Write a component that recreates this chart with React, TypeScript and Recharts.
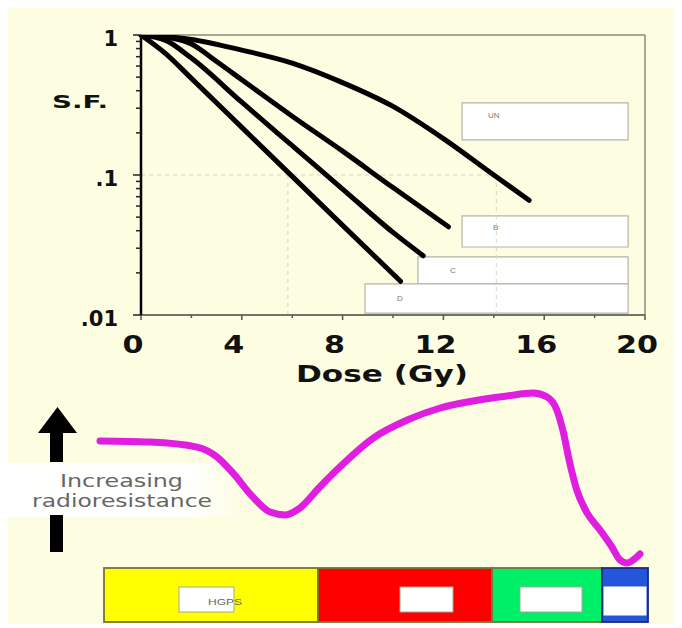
import React from 'react';
import { LineChart, Line, XAxis, YAxis, ReferenceLine, ReferenceArea, BarChart, Bar } from 'recharts';

// ---- Survival curves (dose in Gy, surviving fraction) ----
const UN_DOSE = [0, 2, 4, 6, 8, 10, 12, 14, 15.4];
const UN_SF = [1, 0.93, 0.78, 0.63, 0.457, 0.309, 0.182, 0.1, 0.066];
const B_DOSE = [0, 1, 2, 3, 4, 6, 8, 10, 12.2];
const B_SF = [1, 0.966, 0.861, 0.646, 0.479, 0.263, 0.148, 0.0813, 0.0427];
const C_DOSE = [0, 1, 2, 4, 6, 8, 10, 11.2];
const C_SF = [1, 0.912, 0.684, 0.331, 0.162, 0.0794, 0.0389, 0.0265];
const D_DOSE = [0, 1, 2, 4, 6, 8, 10.3];
const D_SF = [1, 0.73, 0.49, 0.219, 0.0977, 0.0437, 0.0174];

const X_TICKS = [0, 2, 4, 6, 8, 10, 12, 14, 16, 18, 20];
const Y_TICKS = [0.01, 0.02, 0.03, 0.04, 0.05, 0.06, 0.07, 0.08, 0.09, 0.1, 0.2, 0.3, 0.4, 0.5, 0.6, 0.7, 0.8, 0.9, 1];
const Y_MAJOR = [0.01, 0.1, 1];
const Y_MAJOR_LABELS = ['.01', '.1', '1'];

// legend boxes (names and their extents in data units)
const LEGEND_NAMES = ['UN', 'B', 'C', 'D'];
const LEGEND_X1 = [12.74, 12.74, 10.99, 8.89];
const LEGEND_X2 = [19.33, 19.33, 19.33, 19.33];
const LEGEND_Y1 = [0.178, 0.0306, 0.0167, 0.0103];
const LEGEND_Y2 = [0.327, 0.051, 0.026, 0.0167];

// ---- Radioresistance trace (relative units) ----
const MAG_X = [0, 9.26, 17.96, 21.67, 24.6, 28.3, 31.5, 34.3, 37.0, 40.7, 44.4, 50.6, 56.9, 63.0, 69.1, 75.4, 80.2, 82.8, 84.6, 85.7, 87.0, 88.3, 90.2, 92.6, 94.8, 96.3, 97.6, 99.4, 100];
const MAG_Y = [71.7, 71.1, 68.3, 62.8, 53.9, 40.6, 32.2, 30.6, 34.4, 46.1, 57.2, 73.3, 83.3, 90, 93.9, 96.7, 98.3, 96.1, 88.9, 77.8, 59.4, 44.4, 31.7, 22.2, 12.8, 5.6, 3.9, 7.2, 8.9];

// ---- Segments ----
const SEGMENT_KEYS = ['yellow', 'red', 'green', 'blue'];
const SEGMENT_WIDTHS = [214, 174, 110, 46];
const SEGMENT_LABELS = ['HGPS', '', '', ''];
const SEGMENT_COLORS = ['#ffff00', '#ff0000', '#00ef68', '#2456dc'];

const toPoints = (d: number[], s: number[]) => d.map((dose, i) => ({ dose, sf: s[i] }));
const SERIES = [
  { name: 'UN', points: toPoints(UN_DOSE, UN_SF) },
  { name: 'B', points: toPoints(B_DOSE, B_SF) },
  { name: 'C', points: toPoints(C_DOSE, C_SF) },
  { name: 'D', points: toPoints(D_DOSE, D_SF) },
];
const MAG_POINTS = MAG_X.map((x, i) => ({ x, y: MAG_Y[i] }));
const SEGMENT_ROW: Record<string, any> = { name: 'cells' };
SEGMENT_KEYS.forEach((k, i) => { SEGMENT_ROW[k] = SEGMENT_WIDTHS[i]; });
const SEGMENT_DATA = [SEGMENT_ROW];
const SEGMENT_TOTAL = SEGMENT_WIDTHS.reduce((a, b) => a + b, 0);

// styling for annotation pieces
const LEGEND_LABEL_OFFSETS = [[26, 15], [31, 14], [32, 16], [32, 17]];
const SEGMENT_INNER = [
  { left: 75, width: 55, top: 19, height: 25, textDx: 121, textDy: 37 },
  { left: 82, width: 53, top: 19, height: 25, textDx: 0, textDy: 0 },
  { left: 28, width: 62, top: 19, height: 25, textDx: 0, textDy: 0 },
  { left: 2, width: 42, top: 19, height: 28, textDx: 0, textDy: 0 },
];

const BOLD = '"DejaVu Sans", "Liberation Sans", Arial, sans-serif';
const CREAM = '#fdfde1';

const YTick = (props: any) => {
  const { x, y, payload } = props;
  const idx = Y_MAJOR.findIndex((m) => Math.abs(m - payload.value) < 1e-9);
  const major = idx >= 0;
  return (
    <g>
      <line x1={x - (major ? 8 : 5)} x2={x} y1={y} y2={y} stroke="#222" strokeWidth={1.5} />
      {major && (
        <text x={x - 23} y={y + 11} textAnchor="end" fontFamily={BOLD} fontWeight="bold" fontSize={21} fill="#111">
          {Y_MAJOR_LABELS[idx]}
        </text>
      )}
    </g>
  );
};

const XTick = (props: any) => {
  const { x, y, payload } = props;
  const v = payload.value;
  const labeled = v % 4 === 0;
  const s = String(v);
  return (
    <g>
      <line x1={x} x2={x} y1={y} y2={y + (labeled ? 5 : 3)} stroke="#555" strokeWidth={1.5} />
      {labeled && (
        <text x={x - 8} y={y + 38} textAnchor="middle" fontFamily={BOLD} fontWeight="bold" fontSize={24} fill="#111"
          textLength={s.length * 21} lengthAdjust="spacingAndGlyphs">
          {s}
        </text>
      )}
    </g>
  );
};

const SegmentShape = (props: any) => {
  const { x, y, width, height, fill, inner, label, isBlue } = props;
  return (
    <g>
      <rect x={x} y={y} width={width} height={height} fill={fill} stroke={isBlue ? '#1c2a80' : '#77733a'} strokeWidth={1.8} />
      <rect x={x + inner.left} y={y + inner.top} width={inner.width} height={inner.height} fill="#ffffff" stroke={isBlue ? '#ffffff' : '#a8a890'} strokeWidth={1} />
      {label ? (
        <text x={x + inner.textDx} y={y + inner.textDy} textAnchor="middle" fontFamily="Liberation Sans, Arial, sans-serif" fontSize={9} fill="#666"
          textLength={34} lengthAdjust="spacingAndGlyphs">
          {label}
        </text>
      ) : null}
    </g>
  );
};

export default function App() {
  return (
    <div style={{ position: 'relative', width: 674, height: 616, background: CREAM, overflow: 'hidden' }}>
      {/* decorations: glow, arrow and caption */}
      <svg width={674} height={616} style={{ position: 'absolute', left: 0, top: 0 }}>
        <defs>
          <linearGradient id="glow" x1="0" y1="0" x2="1" y2="0">
            <stop offset="0" stopColor="#ffffff" stopOpacity={1} />
            <stop offset="0.75" stopColor="#ffffff" stopOpacity={0.95} />
            <stop offset="1" stopColor="#ffffff" stopOpacity={0} />
          </linearGradient>
        </defs>
        <rect x={0} y={455} width={240} height={54} fill="url(#glow)" />
        <polygon points="30,425 69,425 49.5,399" fill="#000" />
        <rect x={42} y={424} width={13} height={30} fill="#000" />
        <rect x={42} y={507} width={13} height={37} fill="#000" />
        <text x={52} y={479} fontFamily='"DejaVu Sans", sans-serif' fontSize={17} fill="#666" textLength={123} lengthAdjust="spacingAndGlyphs">Increasing</text>
        <text x={24} y={499} fontFamily='"DejaVu Sans", sans-serif' fontSize={17} fill="#666" textLength={180} lengthAdjust="spacingAndGlyphs">radioresistance</text>
      </svg>

      {/* survival curves */}
      <div style={{ position: 'absolute', left: 0, top: 0 }}>
        <LineChart width={674} height={390} margin={{ top: 27, right: 37, left: 0, bottom: 23 }}>
          <XAxis
            type="number"
            dataKey="dose"
            domain={[0, 20]}
            ticks={X_TICKS}
            interval={0}
            tick={<XTick />}
            tickLine={false}
            tickSize={0}
            tickMargin={0}
            height={60}
            axisLine={{ stroke: '#444', strokeWidth: 1.5 }}
            label={(p: any) => (
              <text x={p.viewBox.x + p.viewBox.width / 2 - 11} y={p.viewBox.y + 67} textAnchor="middle" fontFamily={BOLD}
                fontWeight="bold" fontSize={23} fill="#111" textLength={172} lengthAdjust="spacingAndGlyphs">
                Dose (Gy)
              </text>
            )}
          />
          <YAxis
            type="number"
            scale="log"
            domain={[0.01, 1]}
            allowDataOverflow
            ticks={Y_TICKS}
            interval={0}
            tick={<YTick />}
            tickLine={false}
            tickSize={0}
            tickMargin={0}
            width={133}
            axisLine={{ stroke: '#000', strokeWidth: 2.5 }}
            label={(p: any) => (
              <text x={72} y={p.viewBox.y + 73} textAnchor="middle" fontFamily={BOLD} fontWeight="bold" fontSize={17}
                fill="#111" textLength={56} lengthAdjust="spacingAndGlyphs">
                S.F.
              </text>
            )}
          />
          <ReferenceLine y={1} stroke="#8a8a7a" strokeWidth={1.5} />
          <ReferenceLine x={20} stroke="#8a8a7a" strokeWidth={1.5} />
          <ReferenceLine segment={[{ x: 0, y: 0.1 }, { x: 14.1, y: 0.1 }]} stroke="#d4d4c4" strokeDasharray="4 4" />
          <ReferenceLine segment={[{ x: 5.83, y: 0.01 }, { x: 5.83, y: 0.1 }]} stroke="#d4d4c4" strokeDasharray="4 4" />
          <ReferenceLine segment={[{ x: 14.1, y: 0.01 }, { x: 14.1, y: 0.1 }]} stroke="#d4d4c4" strokeDasharray="4 4" />
          {SERIES.map((s) => (
            <Line
              key={s.name}
              data={s.points}
              dataKey="sf"
              name={s.name}
              type="monotone"
              stroke="#000"
              strokeWidth={5}
              strokeLinecap="round"
              dot={false}
              isAnimationActive={false}
            />
          ))}
          {LEGEND_NAMES.map((n, i) => (
            <ReferenceArea
              key={n}
              x1={LEGEND_X1[i]}
              x2={LEGEND_X2[i]}
              y1={LEGEND_Y1[i]}
              y2={LEGEND_Y2[i]}
              fill="#ffffff"
              fillOpacity={1}
              stroke="#b4b4a8"
              strokeWidth={1.2}
              label={(p: any) => (
                <text x={p.viewBox.x + LEGEND_LABEL_OFFSETS[i][0]} y={p.viewBox.y + LEGEND_LABEL_OFFSETS[i][1]}
                  fontFamily="Liberation Sans, Arial, sans-serif" fontSize={8} fill="#777">
                  {n}
                </text>
              )}
            />
          ))}
        </LineChart>
      </div>

      {/* radioresistance trace */}
      <div style={{ position: 'absolute', left: 0, top: 372 }}>
        <LineChart width={674} height={200} margin={{ top: 10, right: 42, bottom: 10, left: 92 }}>
          <XAxis type="number" dataKey="x" domain={[0, 100]} hide height={0} />
          <YAxis type="number" domain={[0, 100]} hide width={0} />
          <Line
            data={MAG_POINTS}
            dataKey="y"
            type="monotone"
            stroke="#e01ee0"
            strokeWidth={7}
            strokeLinecap="round"
            strokeLinejoin="round"
            dot={false}
            isAnimationActive={false}
          />
        </LineChart>
      </div>

      {/* segment bar */}
      <div style={{ position: 'absolute', left: 0, top: 555 }}>
        <BarChart width={674} height={64} layout="vertical" data={SEGMENT_DATA} barCategoryGap={0}
          margin={{ top: 5, right: 34, bottom: 5, left: 96 }}>
          <XAxis type="number" domain={[0, SEGMENT_TOTAL]} hide height={0} />
          <YAxis type="category" dataKey="name" hide width={0} />
          {SEGMENT_KEYS.map((k, i) => (
            <Bar
              key={k}
              dataKey={k}
              stackId="s"
              fill={SEGMENT_COLORS[i]}
              isAnimationActive={false}
              shape={(p: any) => (
                <SegmentShape {...p} fill={SEGMENT_COLORS[i]} inner={SEGMENT_INNER[i]} label={SEGMENT_LABELS[i]} isBlue={i === 3} />
              )}
            />
          ))}
        </BarChart>
      </div>
    </div>
  );
}
